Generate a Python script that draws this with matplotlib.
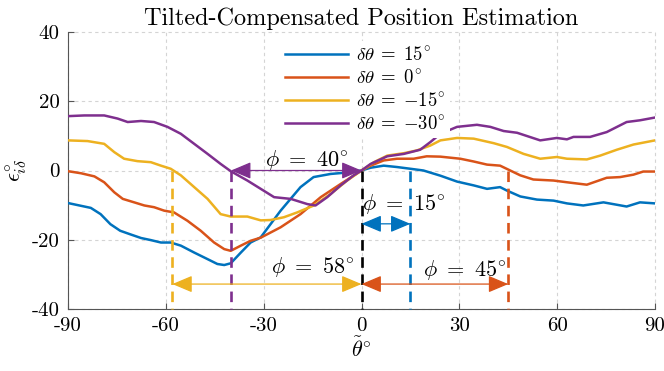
import matplotlib
matplotlib.use("Agg")
import matplotlib.pyplot as plt

plt.rcParams["font.family"] = ["cmr10", "DejaVu Sans"]
plt.rcParams["mathtext.fontset"] = "cm"
plt.rcParams["axes.unicode_minus"] = False

# --- data -----------------------------------------------------------------
x_p15 = [-90, -83, -80, -77, -74, -71, -67.6, -64.6, -61.5, -58.5, -55.4, -51.3, -47.2,
         -44.2, -42.1, -40.1, -37, -34, -30.9, -24.8, -18.7, -14.7, -9.5, -3.4, 0, 2.8,
         6.8, 10.9, 15, 19, 24.2, 29.3, 34.4, 38.5, 42.5, 44.6, 48.7, 53.8, 58.9, 63, 68,
         74.2, 81.3, 85.4, 90]
y_p15 = [-9.4, -10.8, -12.6, -15.5, -17.4, -18.4, -19.5, -20.1, -20.8, -20.8, -21.7,
         -23.7, -25.6, -27.0, -27.3, -26.8, -23.7, -20.8, -19.3, -11.6, -4.8, -1.9, -1.0,
         -0.5, 0, 0.8, 1.4, 1.0, 0.5, 0, -1.5, -3.2, -4.3, -5.3, -4.8, -5.8, -7.5, -8.4,
         -8.7, -9.5, -10.1, -9.2, -10.4, -9.2, -9.5]

x_0 = [-90, -86, -81.9, -78.9, -75.8, -73.2, -69.7, -66.6, -63.6, -60.5, -57.5, -53.4,
       -49.3, -45.2, -42.1, -40.1, -37, -34, -30.9, -24.8, -18.7, -12.5, -6.4, 0, 2.8, 6.8,
       10.9, 16, 20, 24.2, 30.3, 34.4, 38.5, 42.5, 45.6, 48.7, 52.7, 58.9, 63, 69.1, 75.2,
       79.3, 83.4, 86.4, 90]
y_0 = [-0.2, -0.8, -1.7, -3.4, -6.3, -8.2, -9.2, -10.1, -10.6, -11.6, -12.1, -14.5, -17.4,
       -20.8, -22.7, -23.2, -21.7, -20.3, -19.4, -16.4, -12.6, -7.7, -3.9, 0, 1.4, 2.9, 3.4,
       3.4, 4.1, 4.0, 3.4, 2.6, 1.7, 1.4, 0, -1.4, -2.6, -2.9, -3.4, -4.1, -2.1, -1.9, -1.2,
       -0.3, -0.3]

x_m15 = [-90, -84, -78.9, -75.8, -72.8, -68.7, -64.6, -61.5, -58.5, -55.4, -51.3, -47.2,
         -43.2, -40.1, -35, -30.9, -27.9, -23.8, -19.7, -14.6, -9.5, -4.4, 0, 3.8, 7.9, 13,
         17, 21.1, 24.2, 29.3, 34.4, 40.5, 44.6, 49.7, 54.8, 59.9, 63, 69.1, 73.2, 78.3,
         83.4, 90]
y_m15 = [8.7, 8.5, 7.7, 5.3, 3.4, 2.7, 2.4, 1.4, 0.5, -1.4, -4.8, -8.2, -12.6, -13.3,
         -13.3, -14.4, -14.3, -13.5, -12.1, -10.1, -6.8, -2.9, 0, 2.4, 4.3, 5.0, 5.8, 7.2,
         8.7, 9.4, 9.2, 7.9, 6.8, 4.8, 3.4, 3.9, 3.4, 3.2, 4.3, 6.0, 7.5, 8.7]

x_m30 = [-90, -85, -78.9, -74.8, -71.7, -67.6, -63.6, -59.5, -55.4, -51.3, -47.2, -43.2,
         -40.1, -35, -30.9, -26.8, -21.7, -16.6, -14.1, -10.5, -6.4, -2.4, 0, 2.8, 7.9, 13,
         18, 21.1, 24.2, 29.3, 35.4, 39.5, 43.6, 47.7, 54.8, 59.9, 63, 65, 70.1, 75.2, 81.3,
         85.4, 90]
y_m30 = [15.7, 15.9, 15.9, 15.0, 14.0, 14.3, 14.0, 12.6, 10.6, 7.7, 4.8, 1.9, -0.2, -2.9,
         -5.3, -7.7, -8.2, -9.7, -10.1, -7.7, -4.3, -1.4, 0, 1.9, 4.1, 4.8, 6.0, 8.2, 10.6,
         12.6, 13.2, 12.6, 11.4, 10.9, 8.7, 9.4, 9.0, 9.7, 9.7, 11.1, 14.0, 14.5, 15.3]

tilt_values = [15, 0, -15, -30]
colors = ["#0072BD", "#D95319", "#EDB120", "#7E2F8E"]

# signed angular span (phi) measured from the common crossing at 0
phi_span = [15, 45, -58, -40]
phi_arrow_y = [-15.4, -32.8, -32.8, 0.0]
phi_text_xy = [(13.0, -9.6), (31.8, -28.7), (-15.0, -27.8), (-16.6, 2.9)]

xticks = [-90, -60, -30, 0, 30, 60, 90]
yticks = [-40, -20, 0, 20, 40]


def tilt_label(v):
    sign = "{-}" if v < 0 else ""
    return r"$\delta\theta\;=\;%s%d^{\!\circ}$" % (sign, abs(v))


# --- figure -----------------------------------------------------------------
fig = plt.figure(figsize=(6.64, 3.71), dpi=100)
ax = fig.add_axes([68 / 664, 1 - 309 / 371, 587 / 664, 277 / 371])

series = [(x_p15, y_p15), (x_0, y_0), (x_m15, y_m15), (x_m30, y_m30)]
for (xs, ys), c, v in zip(series, colors, tilt_values):
    ax.plot(xs, ys, color=c, lw=1.8, label=tilt_label(v), zorder=3)

# vertical dashed markers at each span end plus the reference at 0
ax.plot([0, 0], [0, -40], color="black", lw=1.9, ls=(0, (4, 2.5)), zorder=4,
        clip_on=False)
for span, c in zip(phi_span, colors):
    ax.plot([span, span], [0, -40], color=c, lw=1.9, ls=(0, (4, 2.5)), zorder=4,
            clip_on=False)

# double-headed span arrows with their labels
for span, y, (tx, ty), c in zip(phi_span, phi_arrow_y, phi_text_xy, colors):
    ax.annotate("", xy=(span, y), xytext=(0, y),
                arrowprops=dict(arrowstyle="<|-|>,head_length=0.95,head_width=0.4",
                                color=c, lw=0.9, shrinkA=0, shrinkB=0,
                                mutation_scale=13),
                zorder=5)
    ax.text(tx, ty, r"$\phi\ =\ %d^{\!\circ}$" % abs(span), fontsize=16,
            ha="center", va="center", zorder=6)

ax.set_xlim(-90, 90)
ax.set_ylim(-40, 40)
ax.set_xticks(xticks)
ax.set_xticklabels([str(v) for v in xticks])
ax.set_yticks(yticks)
ax.set_yticklabels([str(v) for v in yticks])

ax.grid(True, ls=(0, (3, 3)), color="#d4d4d4", lw=0.8)
for gl in ax.get_xgridlines() + ax.get_ygridlines():
    gl.set_clip_on(False)
ax.set_axisbelow(True)

for side in ("top", "right"):
    ax.spines[side].set_visible(False)
for side in ("left", "bottom"):
    ax.spines[side].set_color("#555555")
    ax.spines[side].set_linewidth(0.8)
ax.tick_params(direction="in", length=4, width=0.8, color="#555555",
               labelsize=15, pad=6)

ax.set_title("Tilted-Compensated Position Estimation", fontsize=17.5, pad=5)
ax.set_xlabel(r"$\tilde{\theta}^{\!\circ}$", fontsize=16, labelpad=1)
ax.set_ylabel(r"$\epsilon^{\circ}_{i\delta}$", fontsize=16, labelpad=2)

leg = ax.legend(loc="upper left", bbox_to_anchor=(0.345, 1.0), fontsize=13.5,
                frameon=True, edgecolor="none", facecolor="white", framealpha=1,
                handlelength=3.4, handletextpad=0.4, labelspacing=0.27,
                borderpad=0.25)
leg.set_zorder(7)

fig.savefig("out.png", dpi=100)
